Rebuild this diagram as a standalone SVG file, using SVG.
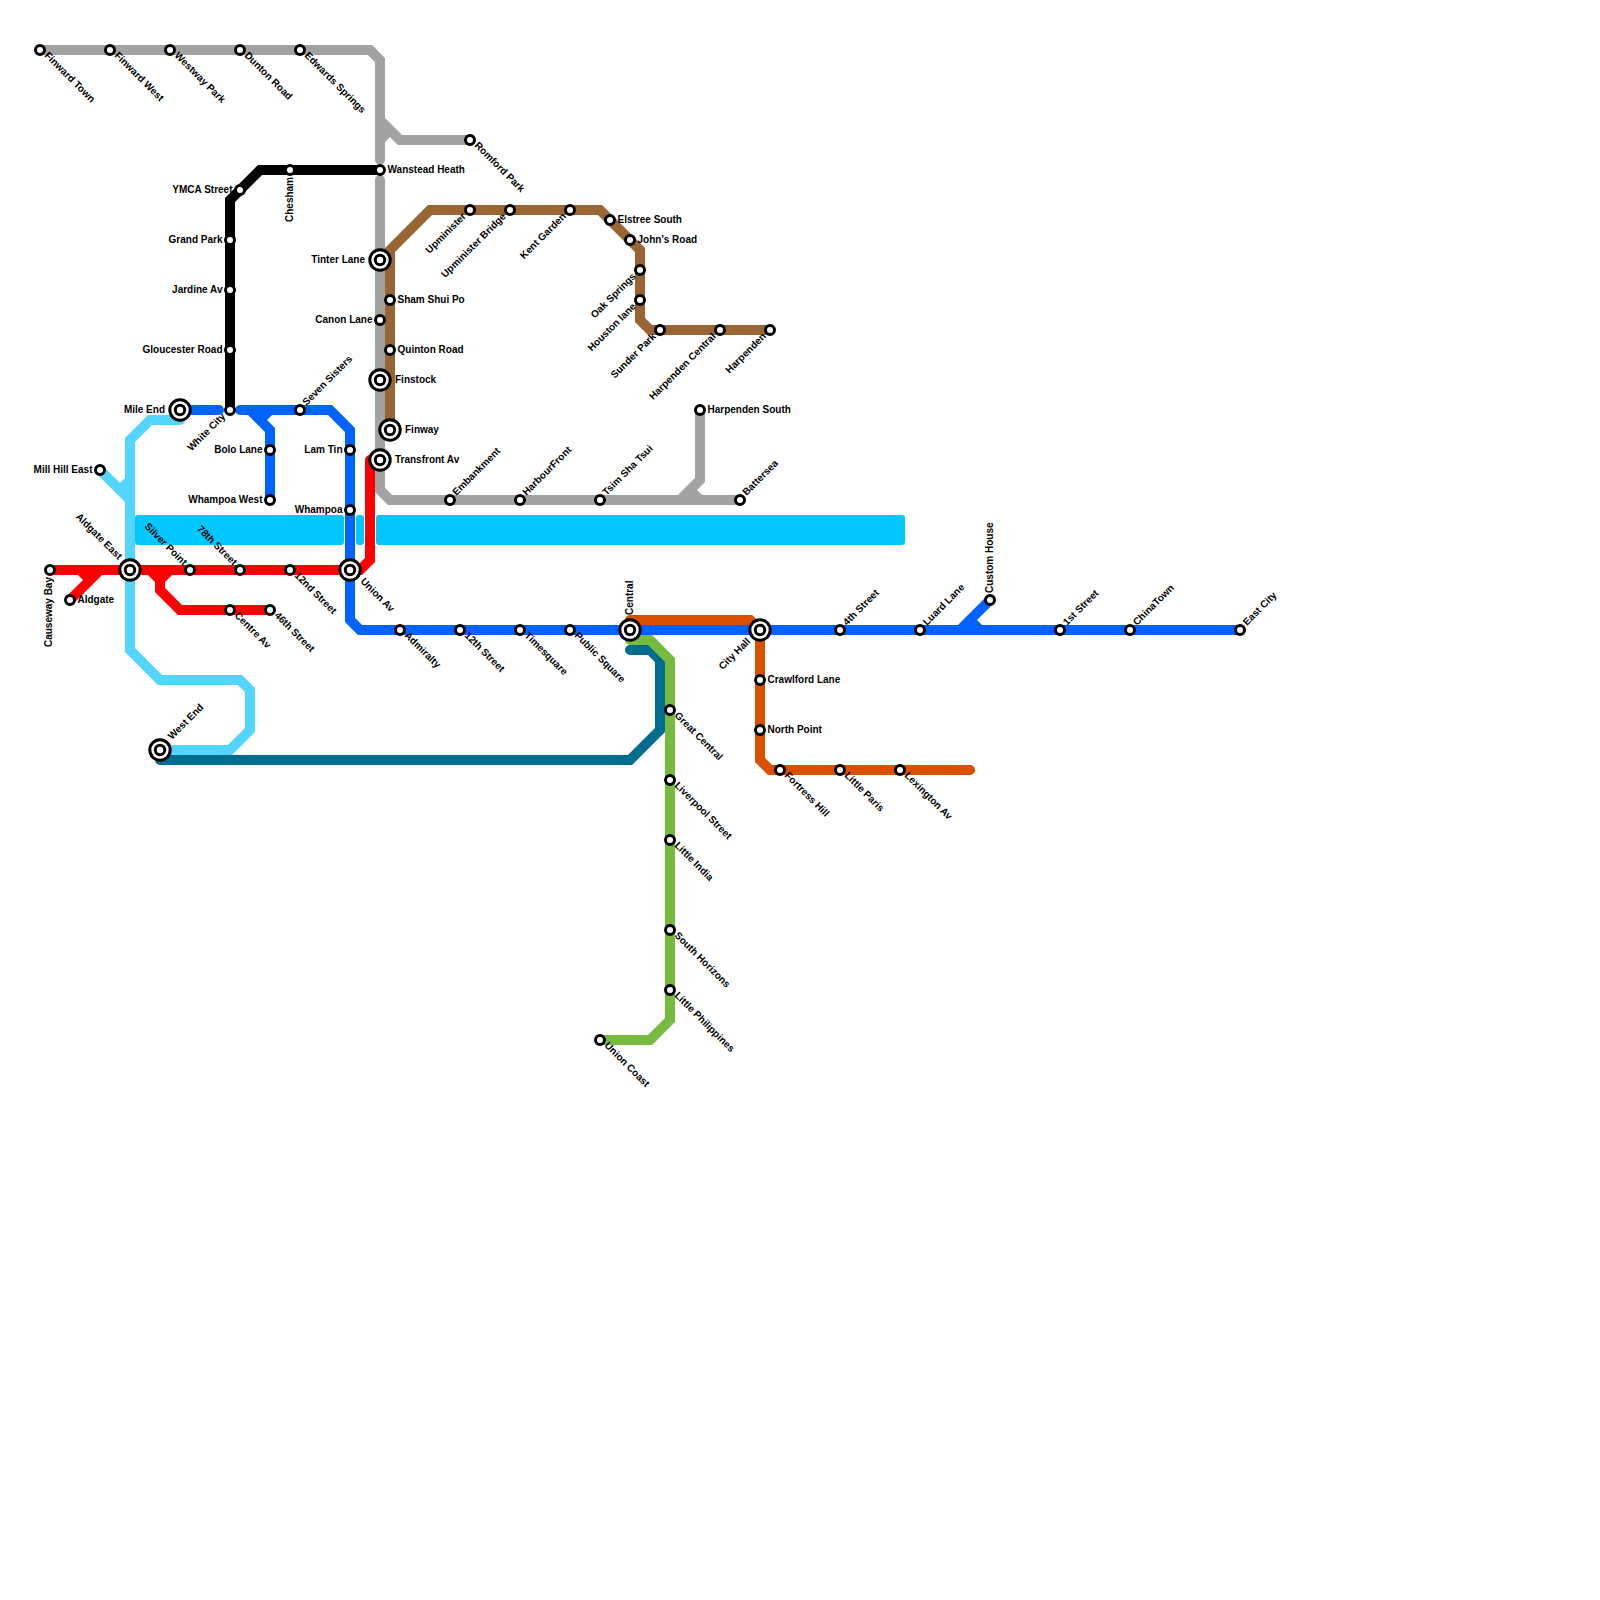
<svg xmlns="http://www.w3.org/2000/svg" width="1600" height="1600" viewBox="0 0 1600 1600">
<style>
.l{fill:none;stroke-width:10;stroke-linecap:round;stroke-linejoin:miter}
.gray{stroke:#a2a2a2}.blue{stroke:#0062ff}.red{stroke:#ff0000}.sky{stroke:#53d5ff}.teal{stroke:#006d8f}.green{stroke:#76bb40}.brown{stroke:#996633}.orange{stroke:#da5000}.black{stroke:#000}
.band{fill:#00c8ff}
.s{fill:#fff;stroke:#000;stroke-width:3}
.o{fill:#000}.w{fill:#fff}
text{font-family:"Liberation Sans",Arial,sans-serif;font-size:10px;font-weight:bold;fill:#000}
.e{text-anchor:end}
</style>
<defs>
<g id="st"><circle class="s" r="4.5"/></g>
<g id="ix"><circle class="o" r="11.7"/><circle class="w" r="8.7"/><circle class="o" r="6.2"/><circle class="w" r="3.2"/></g>
</defs>
<rect width="1600" height="1600" fill="#fff"/>
<g id="connectors">
<rect class="band" x="135" y="515" width="209" height="30" rx="3"/>
<rect class="band" x="356" y="515" width="8" height="30" rx="3"/>
<rect class="band" x="376" y="515" width="529" height="30" rx="3"/>
<path class="l gray" d="M40 50H370L380 60V160M380 120L400 140H470M390 130L380 140M380 180V490L390 500H740M700 410V480L680 500M690 490L700 500"/>
<path class="l brown" d="M390 430V250L430 210H600L640 250V320L650 330H770"/>
<path class="l sky" d="M180 420H150L130 440V650L160 680H240L250 690V730L230 750H160M100 470L130 500M120 490L130 480"/>
<path class="l teal" d="M160 760H630L660 730V660L650 650H630"/>
<path class="l green" d="M630 640H650L670 660V1020L650 1040H600"/>
<path class="l orange" d="M630 620H750L760 630V760L770 770H970"/>
<path class="l blue" d="M180 410H219M240 410H330L350 430V620L360 630H1240M250 410L270 430V500M270 410L260 420M990 600L960 630M970 620L980 630"/>
<path class="l red" d="M50 570H360L370 560V460M70 600L100 570M80 570L90 580M150 570L160 580L170 570M160 580V590L180 610H270"/>
<path class="l black" d="M230 410V200L260 170H380"/>
</g>
<g id="n-finward-town"><use href="#st" x="40" y="50"/><text transform="translate(44 56) rotate(45)">Finward Town</text></g>
<g id="n-finward-west"><use href="#st" x="110" y="50"/><text transform="translate(114 56) rotate(45)">Finward West</text></g>
<g id="n-westway-park"><use href="#st" x="170" y="50"/><text transform="translate(174 56) rotate(45)">Westway Park</text></g>
<g id="n-dunton-road"><use href="#st" x="240" y="50"/><text transform="translate(244 56) rotate(45)">Dunton Road</text></g>
<g id="n-edwards-springs"><use href="#st" x="300" y="50"/><text transform="translate(304 56) rotate(45)">Edwards Springs</text></g>
<g id="n-romford-park"><use href="#st" x="470" y="140"/><text transform="translate(474 146) rotate(45)">Romford Park</text></g>
<g id="n-wanstead-heath"><use href="#st" x="380" y="170"/><text x="387.5" y="173">Wanstead Heath</text></g>
<g id="n-chesham"><use href="#st" x="290" y="170"/><text class="e" transform="translate(293 177) rotate(-90)">Chesham</text></g>
<g id="n-ymca-street"><use href="#st" x="240" y="190"/><text class="e" x="232.5" y="193">YMCA Street</text></g>
<g id="n-grand-park"><use href="#st" x="230" y="240"/><text class="e" x="222.5" y="243">Grand Park</text></g>
<g id="n-jardine-av"><use href="#st" x="230" y="290"/><text class="e" x="222.5" y="293">Jardine Av</text></g>
<g id="n-gloucester-road"><use href="#st" x="230" y="350"/><text class="e" x="222.5" y="353">Gloucester Road</text></g>
<g id="n-white-city"><use href="#st" x="230" y="410"/><text class="e" transform="translate(226 417) rotate(-45)">White City</text></g>
<g id="n-mile-end"><use href="#ix" x="180" y="410"/><text class="e" x="165" y="413">Mile End</text></g>
<g id="n-seven-sisters"><use href="#st" x="300" y="410"/><text transform="translate(306.5 406) rotate(-45)">Seven Sisters</text></g>
<g id="n-bolo-lane"><use href="#st" x="270" y="450"/><text class="e" x="262.5" y="453">Bolo Lane</text></g>
<g id="n-whampoa-west"><use href="#st" x="270" y="500"/><text class="e" x="262.5" y="503">Whampoa West</text></g>
<g id="n-lam-tin"><use href="#st" x="350" y="450"/><text class="e" x="342.5" y="453">Lam Tin</text></g>
<g id="n-whampoa"><use href="#st" x="350" y="510"/><text class="e" x="342.5" y="513">Whampoa</text></g>
<g id="n-union-av"><use href="#ix" x="350" y="570"/><text transform="translate(360 582) rotate(45)">Union Av</text></g>
<g id="n-tinter-lane"><use href="#ix" x="380" y="260"/><text class="e" x="365" y="263">Tinter Lane</text></g>
<g id="n-sham-shui-po"><use href="#st" x="390" y="300"/><text x="397.5" y="303">Sham Shui Po</text></g>
<g id="n-canon-lane"><use href="#st" x="380" y="320"/><text class="e" x="372.5" y="323">Canon Lane</text></g>
<g id="n-quinton-road"><use href="#st" x="390" y="350"/><text x="397.5" y="353">Quinton Road</text></g>
<g id="n-finstock"><use href="#ix" x="380" y="380"/><text x="395" y="383">Finstock</text></g>
<g id="n-finway"><use href="#ix" x="390" y="430"/><text x="405" y="433">Finway</text></g>
<g id="n-transfront-av"><use href="#ix" x="380" y="460"/><text x="395" y="463">Transfront Av</text></g>
<g id="n-upminister"><use href="#st" x="470" y="210"/><text class="e" transform="translate(466.5 217) rotate(-45)">Upminister</text></g>
<g id="n-upminister-bridge"><use href="#st" x="510" y="210"/><text class="e" transform="translate(506.5 217) rotate(-45)">Upminister Bridge</text></g>
<g id="n-kent-garden"><use href="#st" x="570" y="210"/><text class="e" transform="translate(566.5 217) rotate(-45)">Kent Garden</text></g>
<g id="n-elstree-south"><use href="#st" x="610" y="220"/><text x="617.5" y="223">Elstree South</text></g>
<g id="n-johns-road"><use href="#st" x="630" y="240"/><text x="637.5" y="243">John's Road</text></g>
<g id="n-oak-springs"><use href="#st" x="640" y="270"/><text class="e" transform="translate(636.5 277) rotate(-45)">Oak Springs</text></g>
<g id="n-houston-lane"><use href="#st" x="640" y="300"/><text class="e" transform="translate(636.5 307) rotate(-45)">Houston lane</text></g>
<g id="n-sunder-park"><use href="#st" x="660" y="330"/><text class="e" transform="translate(656.5 337) rotate(-45)">Sunder Park</text></g>
<g id="n-harpenden-central"><use href="#st" x="720" y="330"/><text class="e" transform="translate(716.5 337) rotate(-45)">Harpenden Central</text></g>
<g id="n-harpenden"><use href="#st" x="770" y="330"/><text class="e" transform="translate(766.5 337) rotate(-45)">Harpenden</text></g>
<g id="n-harpenden-south"><use href="#st" x="700" y="410"/><text x="707.5" y="413">Harpenden South</text></g>
<g id="n-embankment"><use href="#st" x="450" y="500"/><text transform="translate(456.5 496) rotate(-45)">Embankment</text></g>
<g id="n-harbourfront"><use href="#st" x="520" y="500"/><text transform="translate(526.5 496) rotate(-45)">HarbourFront</text></g>
<g id="n-tsim-sha-tsui"><use href="#st" x="600" y="500"/><text transform="translate(606.5 496) rotate(-45)">Tsim Sha Tsui</text></g>
<g id="n-battersea"><use href="#st" x="740" y="500"/><text transform="translate(746.5 496) rotate(-45)">Battersea</text></g>
<g id="n-mill-hill-east"><use href="#st" x="100" y="470"/><text class="e" x="92.5" y="473">Mill Hill East</text></g>
<g id="n-aldgate-east"><use href="#ix" x="130" y="570"/><text class="e" transform="translate(118 560) rotate(45)">Aldgate East</text></g>
<g id="n-silver-point"><use href="#st" x="190" y="570"/><text class="e" transform="translate(183 566) rotate(45)">Silver Point</text></g>
<g id="n-78th-street"><use href="#st" x="240" y="570"/><text class="e" transform="translate(233 566) rotate(45)">78th Street</text></g>
<g id="n-12nd-street"><use href="#st" x="290" y="570"/><text transform="translate(294 576) rotate(45)">12nd Street</text></g>
<g id="n-causeway-bay"><use href="#st" x="50" y="570"/><text class="e" transform="translate(52 577) rotate(-90)">Causeway Bay</text></g>
<g id="n-aldgate"><use href="#st" x="70" y="600"/><text x="77.5" y="603">Aldgate</text></g>
<g id="n-centre-av"><use href="#st" x="230" y="610"/><text transform="translate(234 616) rotate(45)">Centre Av</text></g>
<g id="n-46th-street"><use href="#st" x="270" y="610"/><text transform="translate(274 616) rotate(45)">46th Street</text></g>
<g id="n-west-end"><use href="#ix" x="160" y="750"/><text transform="translate(172 740) rotate(-45)">West End</text></g>
<g id="n-admiralty"><use href="#st" x="400" y="630"/><text transform="translate(404 636) rotate(45)">Admiralty</text></g>
<g id="n-12th-street"><use href="#st" x="460" y="630"/><text transform="translate(464 636) rotate(45)">12th Street</text></g>
<g id="n-timesquare"><use href="#st" x="520" y="630"/><text transform="translate(524 636) rotate(45)">Timesquare</text></g>
<g id="n-public-square"><use href="#st" x="570" y="630"/><text transform="translate(574 636) rotate(45)">Public Square</text></g>
<g id="n-central"><use href="#ix" x="630" y="630"/><text transform="translate(633 615) rotate(-90)">Central</text></g>
<g id="n-city-hall"><use href="#ix" x="760" y="630"/><text class="e" transform="translate(751 642) rotate(-45)">City Hall</text></g>
<g id="n-4th-street"><use href="#st" x="840" y="630"/><text transform="translate(847 626) rotate(-45)">4th Street</text></g>
<g id="n-luard-lane"><use href="#st" x="920" y="630"/><text transform="translate(927 626) rotate(-45)">Luard Lane</text></g>
<g id="n-custom-house"><use href="#st" x="990" y="600"/><text transform="translate(993 593) rotate(-90)">Custom House</text></g>
<g id="n-1st-street"><use href="#st" x="1060" y="630"/><text transform="translate(1067 626) rotate(-45)">1st Street</text></g>
<g id="n-chinatown"><use href="#st" x="1130" y="630"/><text transform="translate(1137 626) rotate(-45)">ChinaTown</text></g>
<g id="n-east-city"><use href="#st" x="1240" y="630"/><text transform="translate(1247 626) rotate(-45)">East City</text></g>
<g id="n-crawlford-lane"><use href="#st" x="760" y="680"/><text x="767.5" y="683">Crawlford Lane</text></g>
<g id="n-north-point"><use href="#st" x="760" y="730"/><text x="767.5" y="733">North Point</text></g>
<g id="n-fortress-hill"><use href="#st" x="780" y="770"/><text transform="translate(784 776) rotate(45)">Fortress Hill</text></g>
<g id="n-little-paris"><use href="#st" x="840" y="770"/><text transform="translate(844 776) rotate(45)">Little Paris</text></g>
<g id="n-lexington-av"><use href="#st" x="900" y="770"/><text transform="translate(904 776) rotate(45)">Lexington Av</text></g>
<g id="n-great-central"><use href="#st" x="670" y="710"/><text transform="translate(674 716) rotate(45)">Great Central</text></g>
<g id="n-liverpool-street"><use href="#st" x="670" y="780"/><text transform="translate(674 786) rotate(45)">Liverpool Street</text></g>
<g id="n-little-india"><use href="#st" x="670" y="840"/><text transform="translate(674 846) rotate(45)">Little India</text></g>
<g id="n-south-horizons"><use href="#st" x="670" y="930"/><text transform="translate(674 936) rotate(45)">South Horizons</text></g>
<g id="n-little-philippines"><use href="#st" x="670" y="990"/><text transform="translate(674 996) rotate(45)">Little Philippines</text></g>
<g id="n-union-coast"><use href="#st" x="600" y="1040"/><text transform="translate(604 1046) rotate(45)">Union Coast</text></g>
</svg>
